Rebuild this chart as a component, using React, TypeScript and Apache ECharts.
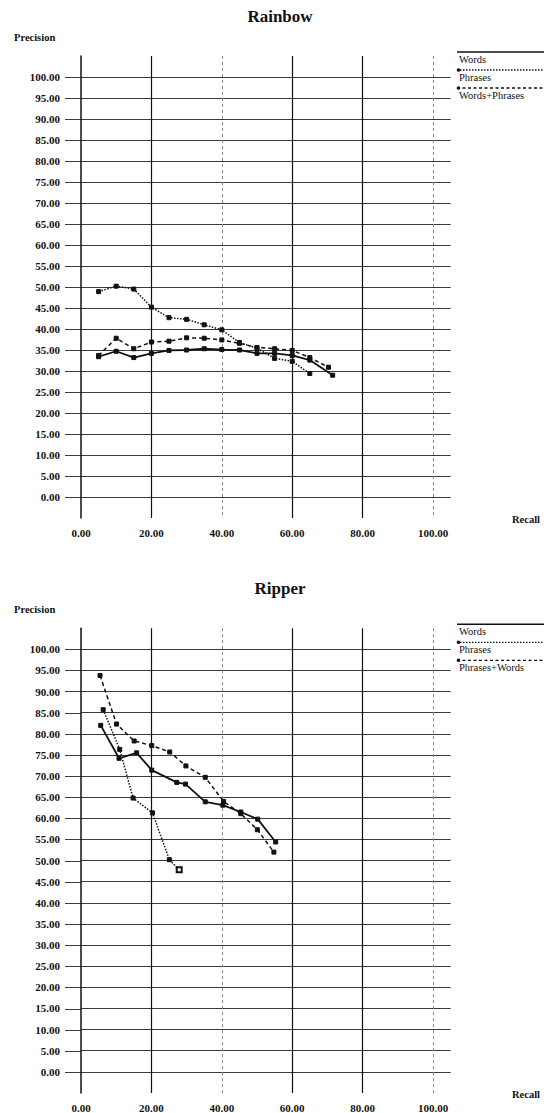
import React, { useEffect, useRef } from 'react';
import * as echarts from 'echarts';

// ---------- data ----------
const xTickValues = [0, 20, 40, 60, 80, 100];
const yTickValues = [0, 5, 10, 15, 20, 25, 30, 35, 40, 45, 50, 55, 60, 65, 70, 75, 80, 85, 90, 95, 100];

const rainbowTitle = 'Rainbow';
const rainbowNames = ['Words', 'Phrases', 'Words+Phrases'];
const rainbowWordsX = [5, 10, 15, 20, 25, 30, 35, 40, 45, 50, 55, 60, 65, 71.5];
const rainbowWordsY = [33.4, 34.7, 33.2, 34.2, 34.9, 35.0, 35.3, 35.1, 35.0, 34.2, 34.2, 33.7, 32.6, 29.0];
const rainbowPhrasesX = [5, 10, 15, 20, 25, 30, 35, 40, 45, 50, 55, 60, 65];
const rainbowPhrasesY = [48.9, 50.2, 49.5, 45.2, 42.7, 42.3, 41.0, 39.8, 36.8, 35.4, 33.0, 32.3, 29.4];
const rainbowBothX = [5, 10, 15, 20, 25, 30, 35, 40, 45, 50, 55, 60, 65, 70.3];
const rainbowBothY = [33.7, 37.8, 35.3, 36.9, 37.1, 37.9, 37.8, 37.4, 36.6, 35.6, 35.3, 34.9, 33.2, 30.9];

const ripperTitle = 'Ripper';
const ripperNames = ['Words', 'Phrases', 'Phrases+Words'];
const ripperWordsX = [5.6, 10.8, 15.8, 20.1, 27.2, 29.7, 35.3, 40.3, 45.4, 50.2, 55.3];
const ripperWordsY = [82.0, 74.2, 75.5, 71.4, 68.5, 68.1, 63.9, 63.1, 61.5, 59.8, 54.4];
const ripperPhrasesX = [6.3, 11.0, 14.8, 20.3, 25.1, 27.9];
const ripperPhrasesY = [85.7, 76.3, 64.8, 61.3, 50.2, 47.8];
const ripperBothX = [5.4, 10.1, 15.1, 20.1, 25.2, 29.8, 35.3, 40.5, 45.4, 50.1, 54.8];
const ripperBothY = [93.8, 82.3, 78.3, 77.2, 75.7, 72.4, 69.7, 64.0, 61.1, 57.3, 52.0];

const xLabel = 'Recall';
const yLabel = 'Precision';

// ---------- styles ----------
const FONT = "'Liberation Serif', 'DejaVu Serif', serif";
const INK = '#111';
const GRIDC = '#3a3a3a';
const lineStyles: any[] = [
  { type: 'solid', width: 1.8 },
  { type: 'dotted', width: 1.5 },
  { type: [4, 3], width: 1.5 },
];

const zip = (xs: number[], ys: number[]) => xs.map((x, i) => [x, ys[i]]);

interface ChartDef {
  title: string;
  names: string[];
  series: number[][][];
  y100: number; // pixel of the 100 line
  unit: number; // pixels per precision unit
  lastOpen?: boolean;
}

const charts: ChartDef[] = [
  {
    title: rainbowTitle,
    names: rainbowNames,
    series: [zip(rainbowWordsX, rainbowWordsY), zip(rainbowPhrasesX, rainbowPhrasesY), zip(rainbowBothX, rainbowBothY)],
    y100: 77,
    unit: 4.2,
  },
  {
    title: ripperTitle,
    names: ripperNames,
    series: [zip(ripperWordsX, ripperWordsY), zip(ripperPhrasesX, ripperPhrasesY), zip(ripperBothX, ripperBothY)],
    y100: 649.3,
    unit: 4.23,
    lastOpen: true,
  },
];

const MAIN_LEFT = 81;
const MAIN_W = 369.6;
const EXT_LEFT = 65;

function buildOption() {
  const grid: any[] = [];
  const xAxis: any[] = [];
  const yAxis: any[] = [];
  const series: any[] = [];
  const graphic: any[] = [];

  charts.forEach((c) => {
    const top = c.y100 - 5 * c.unit;
    const height = 110 * c.unit;
    const y0 = c.y100 + 100 * c.unit;

    const gMain = grid.length;
    grid.push({ left: MAIN_LEFT, width: MAIN_W, top, height });
    const gExt = grid.length;
    grid.push({ left: EXT_LEFT, width: MAIN_LEFT - EXT_LEFT, top, height });

    const xMain = xAxis.length;
    xAxis.push({
      type: 'value', gridIndex: gMain, min: 0, max: 105, interval: 20, position: 'bottom',
      axisLine: { show: false }, axisTick: { show: false },
      axisLabel: {
        margin: 9, color: INK, fontFamily: FONT, fontWeight: 'bold', fontSize: 11,
        formatter: (v: number) => (xTickValues.includes(v) ? v.toFixed(2) : ''),
      },
      splitLine: {
        show: true, showMinLine: false, showMaxLine: false,
        lineStyle: { color: [INK, 'transparent', INK, INK, 'transparent', 'transparent'], width: 1.2 },
      },
    });
    xAxis.push({
      type: 'value', gridIndex: gMain, min: 0, max: 105, interval: 20, position: 'bottom',
      axisLine: { show: false }, axisTick: { show: false }, axisLabel: { show: false },
      splitLine: {
        show: true, showMinLine: false, showMaxLine: false,
        lineStyle: { color: ['transparent', '#8a8a8a', 'transparent', 'transparent', '#8a8a8a', 'transparent'], width: 1, type: [3, 3] },
      },
    });
    xAxis.push({ type: 'value', gridIndex: gExt, min: 0, max: 1, show: false });

    const yMain = yAxis.length;
    yAxis.push({
      type: 'value', gridIndex: gMain, min: -5, max: 105, interval: 5,
      axisLine: { show: true, lineStyle: { color: INK, width: 1.5 } },
      axisTick: { show: false },
      axisLabel: {
        margin: 21, color: INK, fontFamily: FONT, fontWeight: 'bold', fontSize: 11,
        formatter: (v: number) => (yTickValues.includes(v) ? v.toFixed(2) : ''),
      },
      splitLine: { show: true, showMinLine: false, showMaxLine: false, lineStyle: { color: GRIDC, width: 1 } },
    });
    yAxis.push({
      type: 'value', gridIndex: gExt, min: -5, max: 105, interval: 5,
      axisLine: { show: false }, axisTick: { show: false }, axisLabel: { show: false },
      splitLine: { show: true, showMinLine: false, showMaxLine: false, lineStyle: { color: GRIDC, width: 1 } },
    });

    c.series.forEach((pts, i) => {
      const data = pts.map((p, j) =>
        c.lastOpen && i === 1 && j === pts.length - 1
          ? { value: p, symbol: 'emptyRect', symbolSize: 5 }
          : p
      );
      series.push({
        type: 'line', name: c.names[i], xAxisIndex: xMain, yAxisIndex: yMain,
        data, symbol: 'rect', symbolSize: 4, showSymbol: true,
        itemStyle: { color: INK, borderColor: INK },
        lineStyle: { color: INK, ...lineStyles[i] },
        z: 5,
      });
    });

    const y100 = c.y100;
    graphic.push({
      type: 'text', x: 280, y: y100 - 61,
      style: { text: c.title, fill: INK, font: `bold 17px ${FONT}`, align: 'center', verticalAlign: 'middle' },
    });
    graphic.push({
      type: 'text', x: 14, y: y100 - 40,
      style: { text: yLabel, fill: INK, font: `bold 10.5px ${FONT}`, align: 'left', verticalAlign: 'middle' },
    });
    graphic.push({
      type: 'text', x: 512, y: y0 + 22,
      style: { text: xLabel, fill: INK, font: `bold 10.5px ${FONT}`, align: 'left', verticalAlign: 'middle' },
    });
    c.names.forEach((n, i) => {
      const ly = y100 - 25 + i * 18;
      graphic.push({
        type: 'line', shape: { x1: 457, y1: ly, x2: 544, y2: ly },
        style: { stroke: INK, lineWidth: i === 0 ? 1.5 : 1.3, lineDash: i === 0 ? null : i === 1 ? [1.5, 1.5] : [3, 2.5] },
      });
      if (i > 0) {
        graphic.push({ type: 'circle', shape: { cx: 458.5, cy: ly, r: 1.8 }, style: { fill: INK } });
      }
      graphic.push({
        type: 'text', x: 459, y: ly + 7.5,
        style: { text: n, fill: INK, font: `10.5px ${FONT}`, align: 'left', verticalAlign: 'middle' },
      });
    });
  });

  return { animation: false, backgroundColor: '#fff', grid, xAxis, yAxis, series, graphic };
}

export default function App() {
  const ref = useRef<HTMLDivElement>(null);
  useEffect(() => {
    if (!ref.current) return;
    const chart = echarts.init(ref.current, undefined, { renderer: 'svg' });
    chart.setOption(buildOption() as any);
    return () => chart.dispose();
  }, []);
  return (
    <div
      ref={ref}
      style={{ position: 'fixed', left: 0, top: 0, width: 550, height: 1113, background: '#fff' }}
    />
  );
}
